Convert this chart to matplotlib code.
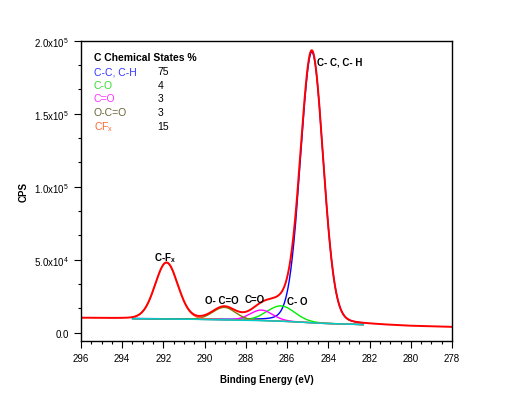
import numpy as np
import matplotlib
matplotlib.use("Agg")
import matplotlib.pyplot as plt
from matplotlib.ticker import MultipleLocator, AutoMinorLocator, FuncFormatter

plt.rcParams['font.family'] = ['Liberation Sans', 'DejaVu Sans']
plt.rcParams['mathtext.fontset'] = 'custom'
plt.rcParams['mathtext.rm'] = 'Liberation Sans'
plt.rcParams['mathtext.bf'] = 'Liberation Sans:bold'

# fitted C 1s components
comp_names = ["C-C, C-H", "C-O", "C=O", "O-C=O", "CF$_\\mathregular{x}$"]
comp_pct = [75, 4, 3, 3, 15]
comp_center = [284.8, 286.3, 287.25, 289.05, 291.85]   # eV
comp_height = [1.855e5, 1.05e4, 0.72e4, 0.85e4, 3.85e4]  # CPS above background
comp_fwhm = [1.3, 1.6, 1.3, 1.3, 1.3]                   # eV

# background (Shirley-like) read at a few energies
bg_energy = [278, 280, 282, 283, 284, 285, 286, 287, 288, 289, 290, 292, 294, 296]
bg_cps = [3.9e3, 4.5e3, 5.5e3, 5.9e3, 6.3e3, 7.0e3, 7.8e3, 8.3e3, 8.6e3, 8.9e3, 9.2e3, 9.5e3, 9.8e3, 1.02e4]

# peak label text and where it sits
peak_labels = ["C- C, C- H", "C- O", "C=O", "O- C=O", "C-F$_\\mathbf{x}$"]
label_x = [284.55, 285.5, 287.55, 289.15, 291.9]
label_y = [1.856e5, 2.2e4, 2.33e4, 2.26e4, 5.2e4]

line_colors = ["#0000ff", "#00ee00", "#ff00ff", "#808000", "#ff6633"]
text_colors = ["#3333ff", "#33dd33", "#ff33ff", "#666633", "#ff6633"]


def pseudo_voigt(x, c, h, w, mix=0.1):
    g = np.exp(-4 * np.log(2) * ((x - c) / w) ** 2)
    lo = 1 / (1 + 4 * ((x - c) / w) ** 2)
    return h * ((1 - mix) * g + mix * lo)


e = np.linspace(278, 296, 1200)
bg = np.interp(e, bg_energy, bg_cps)
comps = [pseudo_voigt(e, c, h, w) for c, h, w in zip(comp_center, comp_height, comp_fwhm)]
envelope = bg + np.sum(comps, axis=0)

fig = plt.figure(figsize=(5.12, 4.06), dpi=100)
ax = fig.add_axes([0.158, 0.158, 0.725, 0.739])

fit = (e >= 282.3) & (e <= 293.5)
for comp, col in zip(comps, line_colors):
    ax.plot(e[fit], bg[fit] + comp[fit], color=col, lw=1.0)
ax.plot(e[fit], bg[fit], color="#00cccc", lw=1.1)
ax.plot(e, envelope, color="red", lw=1.4)

ax.set_xlim(296, 278)
ax.set_ylim(-5500, 2.0e5)
ax.xaxis.set_major_locator(MultipleLocator(2))
ax.xaxis.set_minor_locator(MultipleLocator(0.5))
ax.yaxis.set_major_locator(MultipleLocator(5e4))
ax.yaxis.set_minor_locator(AutoMinorLocator(3))


def sci(v, pos):
    if v == 0:
        return "0.0"
    p = int(np.floor(np.log10(abs(v))))
    return "%.1fx10$^{%d}$" % (v / 10 ** p, p)


ax.yaxis.set_major_formatter(FuncFormatter(sci))
ax.tick_params(which="major", length=5, width=0.8, labelsize=7, direction="out")
ax.tick_params(which="minor", length=2.5, width=0.8, direction="out")
ax.tick_params(top=False, right=False, which="both")
for s in ax.spines.values():
    s.set_linewidth(1.0)

ax.set_xlabel("Binding Energy (eV)", fontsize=7, fontweight="bold", labelpad=8)
ax.set_ylabel("CPS", fontsize=7, fontweight="bold")
ax.yaxis.set_label_coords(-0.14, 0.5)

for t, x, y in zip(peak_labels, label_x, label_y):
    ha = "left" if t.startswith("C- C") else "center"
    ax.text(x, y, t, fontsize=7, fontweight="bold", ha=ha, va="center")

# composition table in the upper left
fig.text(0.183, 0.857, "C Chemical States %", fontsize=7.5, fontweight="bold", va="center")
for i, (n, p, col) in enumerate(zip(comp_names, comp_pct, text_colors)):
    yy = 0.822 - i * 0.0335
    fig.text(0.183, yy, n, fontsize=7.5, color=col, va="center")
    fig.text(0.308, yy, str(p), fontsize=7.5, color="black", va="center")

fig.savefig("out.png", dpi=100)
